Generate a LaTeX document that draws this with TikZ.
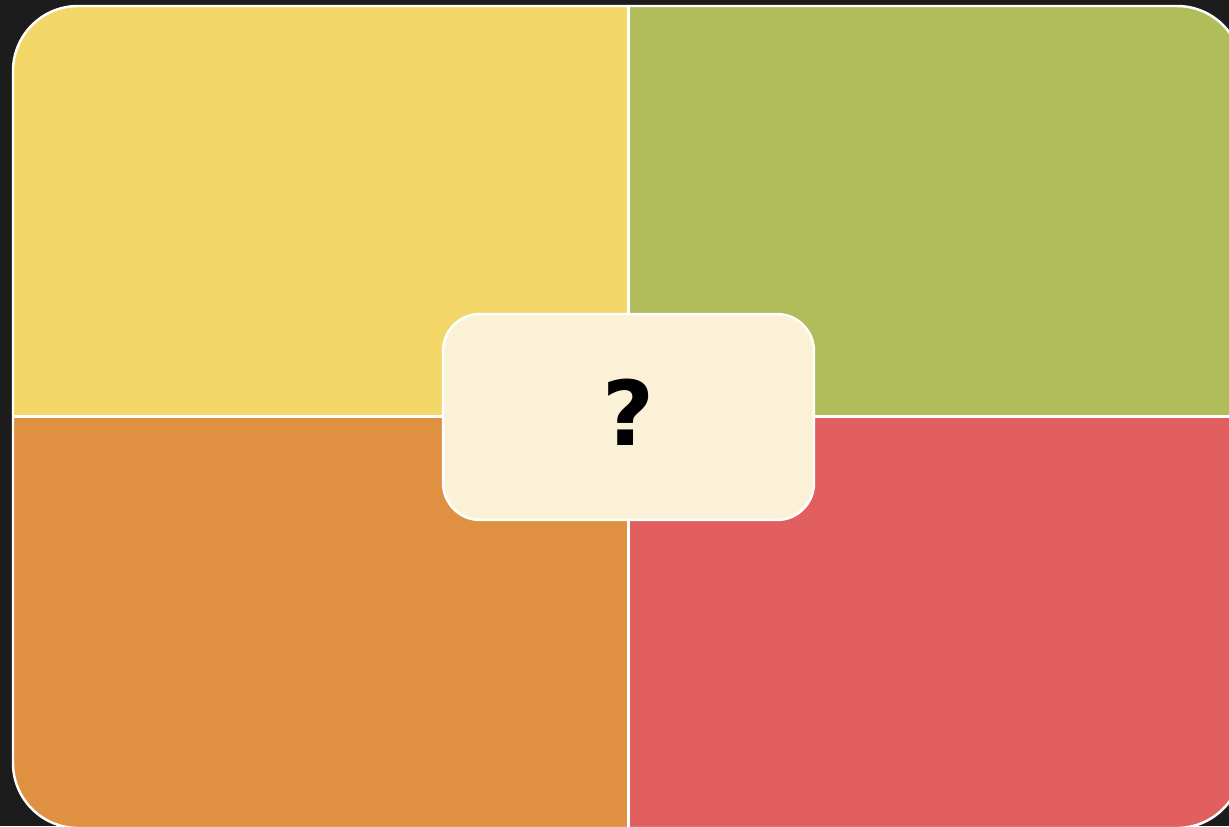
\documentclass[tikz,border=0pt]{standalone}
\usepackage{fontspec}
\setsansfont{DejaVu Sans}
\definecolor{board}{HTML}{1C1C1C}
\definecolor{quadyellow}{HTML}{F3D768}
\definecolor{quadgreen}{HTML}{B0BD5A}
\definecolor{quadorange}{HTML}{DF9041}
\definecolor{quadred}{HTML}{E25F5F}
\definecolor{cream}{HTML}{FBF1D6}
\begin{document}
\begin{tikzpicture}[x=0.02cm,y=-0.02cm]
  \def\r{1.3cm}
  \fill[board] (0,0) rectangle (1229,826);
  \useasboundingbox (0,0) rectangle (1229,826);
  \begin{scope}
    \clip[rounded corners=\r] (13,6) rectangle (1242,828);
    \fill[quadyellow] (13,6) rectangle (628,416);
    \fill[quadgreen] (628,6) rectangle (1242,416);
    \fill[quadorange] (13,416) rectangle (628,828);
    \fill[quadred] (628,416) rectangle (1242,828);
  \end{scope}
  \draw[white, line width=1.4pt, rounded corners=\r] (13,6) rectangle (1242,828);
  \draw[white, line width=1.3pt] (628.5,6) -- (628.5,828);
  \draw[white, line width=1.3pt] (13,416.5) -- (1242,416.5);
  \node[draw=white, fill=cream, line width=1.4pt, rounded corners=0.74cm,
        minimum width=7.42cm, minimum height=4.12cm] (ask) at (628.5,417) {};
  \node[font=\sffamily\bfseries\fontsize{51}{56}\selectfont] (mark) at (628.5,412) {?};
\end{tikzpicture}
\end{document}
